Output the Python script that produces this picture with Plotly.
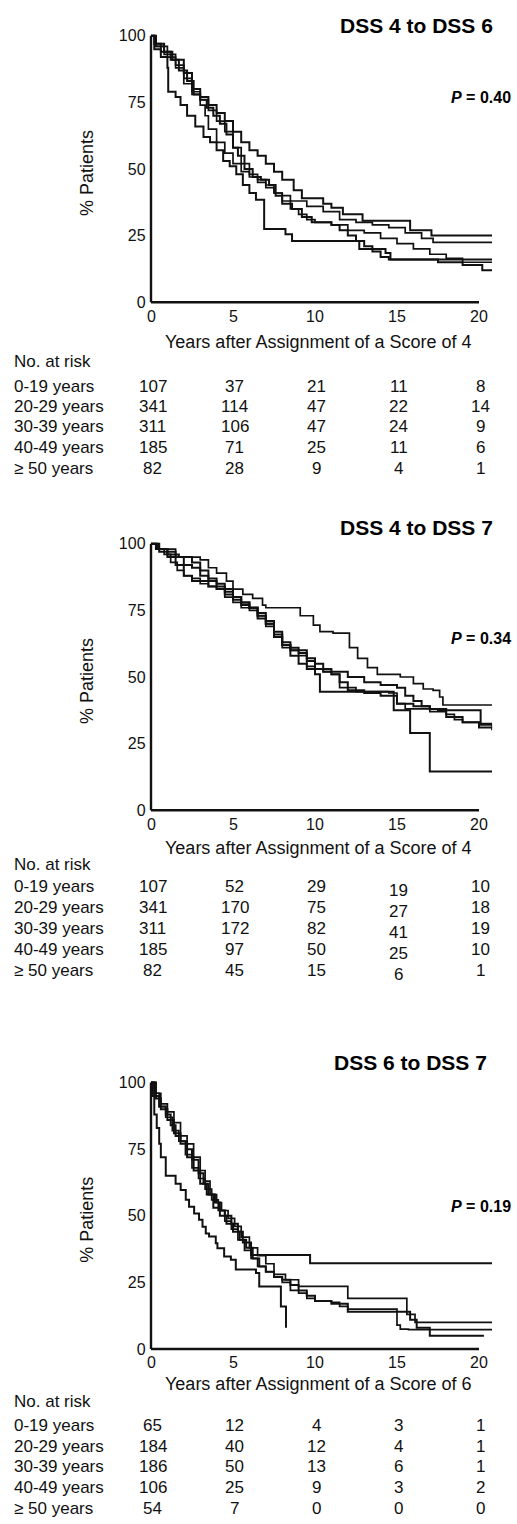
import plotly.graph_objects as go

W, H = 517, 1524
FONT = "Liberation Sans, Arial, sans-serif"

# ---------------- data ----------------
age_groups = ["0-19 years", "20-29 years", "30-39 years", "40-49 years", "\u2265 50 years"]
risk_times = [0, 5, 10, 15, 20]
y_ticks = [0, 25, 50, 75, 100]
x_ticks = [0, 5, 10, 15, 20]

panel_titles = ["DSS 4 to DSS 6", "DSS 4 to DSS 7", "DSS 6 to DSS 7"]
p_values = ["0.40", "0.34", "0.19"]
x_titles = ["Years after Assignment of a Score of 4",
            "Years after Assignment of a Score of 4",
            "Years after Assignment of a Score of 6"]

# No. at risk (rows = age groups, cols = 0,5,10,15,20 years)
p1_risk_0_19 = [107, 37, 21, 11, 8]
p1_risk_20_29 = [341, 114, 47, 22, 14]
p1_risk_30_39 = [311, 106, 47, 24, 9]
p1_risk_40_49 = [185, 71, 25, 11, 6]
p1_risk_50 = [82, 28, 9, 4, 1]

p2_risk_0_19 = [107, 52, 29, 19, 10]
p2_risk_20_29 = [341, 170, 75, 27, 18]
p2_risk_30_39 = [311, 172, 82, 41, 19]
p2_risk_40_49 = [185, 97, 50, 25, 10]
p2_risk_50 = [82, 45, 15, 6, 1]

p3_risk_0_19 = [65, 12, 4, 3, 1]
p3_risk_20_29 = [184, 40, 12, 4, 1]
p3_risk_30_39 = [186, 50, 13, 6, 1]
p3_risk_40_49 = [106, 25, 9, 3, 2]
p3_risk_50 = [54, 7, 0, 0, 0]

# Kaplan-Meier step points (years, % patients)
# Panel 1: DSS 4 to DSS 6
p1_c1_t = [0, 0.3, 0.8, 1.3, 2, 2.5, 3, 3.5, 4, 4.5, 5, 5.5, 6, 6.5, 7, 7.5, 8, 8.7, 9.2, 10, 10.5, 11, 11.7, 12.9, 15.8, 17.1, 20.8]
p1_c1_s = [100, 97, 94, 91, 86, 80, 77, 74, 71, 68, 64, 60, 57, 55, 52, 49, 46, 42, 39, 39, 37, 35.5, 33, 30.6, 27, 25, 25]
p1_c2_t = [0, 0.3, 1, 1.5, 2, 2.5, 3, 3.5, 4, 4.5, 5, 5.5, 6, 6.5, 7, 7.5, 8, 8.5, 9.5, 10.5, 11.5, 12.5, 13.5, 14.5, 15.5, 16.5, 17.2, 20.8]
p1_c2_s = [100, 96, 92, 89, 84, 79, 76, 72, 68, 64, 58, 52, 48, 46, 44, 41, 40, 38, 36, 34, 31, 30, 29, 28, 26, 24, 22.5, 22.5]
p1_c3_t = [0, 0.2, 0.6, 1.0, 1.05, 1.5, 1.8, 2.2, 2.7, 3.2, 3.6, 4, 4.4, 4.8, 5.2, 5.6, 6, 6.4, 6.9, 6.9, 7.8, 8.2, 8.6, 12.6, 12.7, 14, 14.3, 14.6, 20.8]
p1_c3_s = [100, 95, 92, 88, 79, 77, 74, 70, 66, 62, 60, 57, 53, 51, 48, 44, 41, 38.5, 38.5, 27.5, 27.5, 25.5, 23, 23, 20, 20, 18.5, 16, 16]
p1_c4_t = [0, 0.3, 0.8, 1.5, 2, 2.5, 3, 3.3, 3.5, 4, 4.5, 5, 5.5, 6, 6.5, 7, 7.5, 8, 8.5, 9, 9.5, 10, 11, 12, 13, 14, 15, 16, 17, 18, 19, 20.8]
p1_c4_s = [100, 96, 93, 88, 82, 78, 74, 70, 65, 60, 56, 52, 49, 47, 45, 43, 41, 38, 35, 33, 31, 30, 29, 27, 26, 24, 22, 20, 18, 16.5, 15, 15]
p1_c5_t = [0, 0.2, 0.6, 1.2, 1.7, 2.2, 2.6, 3, 3.4, 3.8, 4.2, 4.6, 5, 5.3, 5.7, 6.2, 6.7, 7.2, 7.6, 8, 8.6, 9.2, 9.8, 11, 11.5, 12, 12.5, 13, 13.5, 14, 14.5, 17.5, 19, 20.2, 20.8]
p1_c5_s = [100, 97, 94, 91, 87, 83, 78, 76, 73, 70, 67, 63, 58, 55, 50, 47, 46, 44, 40, 37, 35, 32, 30, 29, 27, 25, 23, 21, 19, 17, 16, 15, 14, 12, 12]

# Panel 2: DSS 4 to DSS 7
p2_c1_t = [0, 0.3, 1, 1.5, 2, 2.5, 3.5, 4, 4.5, 5, 5.5, 6, 6.5, 7, 7.5, 8, 8.5, 9, 9.5, 10, 10.3, 14.8, 15.8, 17, 20.8]
p2_c1_s = [100, 98, 95, 92, 88, 86, 84, 83, 81, 79, 77, 76, 73, 70, 66, 62, 58, 55, 53, 51, 44.5, 37.5, 29, 14.5, 14.5]
p2_c2_t = [0, 0.5, 1.5, 3.0, 3.5, 4.0, 4.6, 5.0, 5.6, 6.2, 6.8, 7.0, 8.7, 9.1, 9.9, 10.3, 11.1, 12.1, 12.6, 13.2, 13.8, 15.2, 16.0, 16.6, 17.2, 17.6, 17.8, 20.8]
p2_c2_s = [100, 98, 95, 94, 91, 89, 86, 83, 81, 79.5, 77, 76, 76, 73, 69.5, 67, 66.5, 61, 57, 53.5, 51, 50, 47.5, 45.5, 45, 42.5, 39.5, 39.5]
p2_c3_t = [0, 0.5, 1, 1.7, 2.5, 3.0, 3.5, 4, 4.5, 5, 5.5, 6, 6.5, 7, 7.5, 8, 8.5, 9, 9.5, 10, 10.5, 11, 12, 13, 14, 15, 15.5, 16, 16.5, 17, 17.5, 20.1, 20.8]
p2_c3_s = [100, 97, 96, 95, 93, 90, 87, 85, 83, 80, 78, 76, 74, 71, 67, 63, 61, 60, 57, 55, 53, 52, 50, 48, 47, 46, 43, 41, 39, 38, 37.5, 32.5, 32.5]
p2_c4_t = [0, 0.3, 0.8, 1.2, 1.6, 2, 2.5, 3, 3.5, 4, 4.5, 5, 5.5, 6, 6.5, 7, 7.5, 8, 8.5, 9, 9.5, 10, 10.5, 11, 11.5, 12.5, 14.5, 15, 15.5, 17, 18, 18.5, 19, 20, 20.8]
p2_c4_s = [100, 98, 96, 93, 90, 88, 87, 85, 84, 83, 80, 78, 76, 75, 73, 69, 65, 61, 60, 58, 54, 53, 52, 51, 46, 44.5, 44, 40, 38, 37, 36, 34, 33, 32, 31]
p2_c5_t = [0, 0.4, 1, 1.5, 2, 2.5, 3, 3.5, 4, 4.5, 5, 5.5, 6, 6.5, 7, 7.5, 8, 8.5, 9, 9.5, 10, 10.5, 11, 11.5, 12, 13, 14, 15, 16, 17, 18, 19, 20, 20.8]
p2_c5_s = [100, 98, 97, 95, 92, 91, 88, 86, 84, 82, 80, 78, 76, 72, 70, 65, 62, 60, 59, 56, 53, 52, 51, 48, 45, 44, 43, 40, 39, 38, 35, 33, 31, 30]

# Panel 3: DSS 6 to DSS 7
p3_c1_t = [0, 0.2, 0.5, 0.9, 1.2, 1.5, 1.8, 2.2, 2.5, 2.9, 3.2, 3.5, 3.9, 4.2, 4.5, 4.9, 5.3, 5.6, 6.1, 9.7, 20.8]
p3_c1_s = [100, 95, 91, 88, 84, 80, 78, 75, 71, 66, 62, 58, 55, 52, 50, 47, 44, 40, 35.3, 32.2, 32.2]
p3_c2_t = [0, 0.3, 0.6, 1, 1.4, 1.8, 2.2, 2.6, 3.0, 3.3, 3.6, 4.0, 4.3, 4.7, 5.1, 5.5, 6.0, 6.5, 7.0, 7.5, 8.2, 9, 12, 15.6, 16.1, 20.8]
p3_c2_s = [100, 96, 92, 89, 85, 80, 77, 72, 67, 63, 58, 55, 52, 49, 46, 42, 38, 35, 32, 28, 26, 23.5, 19, 13, 10, 10]
p3_c3_t = [0, 0.1, 0.2, 0.35, 0.5, 0.6, 0.9, 1.5, 1.81, 2.12, 2.32, 2.63, 2.93, 3.14, 3.34, 3.54, 3.95, 4.05, 4.46, 4.87, 5.17, 6.4, 6.6, 7.92, 8.23]
p3_c3_s = [100, 95, 88, 83, 77, 72, 65, 62, 59.7, 56, 53.4, 50.9, 48.5, 45.9, 43.4, 42.2, 39.7, 37.8, 34.7, 33.5, 29.8, 28.5, 23.5, 16, 8]
p3_c4_t = [0, 0.2, 0.5, 0.9, 1.3, 1.7, 2.1, 2.5, 2.9, 3.3, 3.7, 4.1, 4.5, 4.9, 5.3, 5.7, 6.1, 6.5, 7, 7.5, 8, 8.5, 9, 9.5, 10, 11, 11.5, 12, 15, 15.2, 15.7, 20.8]
p3_c4_s = [100, 96, 91, 87, 82, 78, 73, 68, 64, 60, 56, 52, 48, 45, 41, 37, 34, 31, 29, 27, 25, 22, 21, 19, 18, 17.5, 16, 15, 9, 7.5, 7.3, 7.3]
p3_c5_t = [0, 0.3, 0.6, 1, 1.4, 1.8, 2.2, 2.6, 3, 3.4, 3.8, 4.2, 4.6, 5, 5.4, 5.8, 6.2, 6.6, 7, 7.5, 8, 8.5, 9, 9.5, 10, 11, 12, 15.6, 15.8, 16.2, 17, 20.3]
p3_c5_s = [100, 94, 90, 86, 81, 77, 72, 67, 62, 58, 53, 50, 47, 44, 41, 38, 34, 31, 29, 27, 26, 24, 22, 20, 18, 17, 14, 14, 11, 8, 5, 5]

panels = [
    dict(curves=[(p1_c1_t, p1_c1_s), (p1_c2_t, p1_c2_s), (p1_c3_t, p1_c3_s), (p1_c4_t, p1_c4_s), (p1_c5_t, p1_c5_s)],
         risk=[p1_risk_0_19, p1_risk_20_29, p1_risk_30_39, p1_risk_40_49, p1_risk_50]),
    dict(curves=[(p2_c1_t, p2_c1_s), (p2_c2_t, p2_c2_s), (p2_c3_t, p2_c3_s), (p2_c4_t, p2_c4_s), (p2_c5_t, p2_c5_s)],
         risk=[p2_risk_0_19, p2_risk_20_29, p2_risk_30_39, p2_risk_40_49, p2_risk_50]),
    dict(curves=[(p3_c1_t, p3_c1_s), (p3_c2_t, p3_c2_s), (p3_c3_t, p3_c3_s), (p3_c4_t, p3_c4_s), (p3_c5_t, p3_c5_s)],
         risk=[p3_risk_0_19, p3_risk_20_29, p3_risk_30_39, p3_risk_40_49, p3_risk_50]),
]

# ---------------- layout (pixel geometry) ----------------
X0PX = 151.0
PX_PER_YEAR = 16.4
X_RANGE = [-0.15, 20.8]
PX_PER_PCT = 2.68
Y_RANGE = [-1.5, 101.5]

geom = [
    dict(y0=300, title_y=22, title_r=495, p_y=94, xtick_y=314, xtitle_y=340,
         risk_head=360, risk_rows=[385, 405, 425, 446, 467], col_shift=[0, 0, 0, 0, 0]),
    dict(y0=811, title_y=527, title_r=495, p_y=638, xtick_y=825, xtitle_y=849,
         risk_head=866, risk_rows=[888, 909, 930, 951, 972], col_shift=[0, 0, 0, 4, 0]),
    dict(y0=1353, title_y=1065, title_r=489, p_y=1210, xtick_y=1367, xtitle_y=1388,
         risk_head=1406, risk_rows=[1430, 1451, 1471, 1492, 1513], col_shift=[0, 0, 0, 0, 0]),
]

def py(p):  # pixel row -> paper y
    return 1 - p / H

def px(p):  # pixel column -> paper x
    return p / W

fig = go.Figure()
annotations = []
shapes = []
layout_axes = {}

xl = X0PX + (X_RANGE[0]) * PX_PER_YEAR
xr = X0PX + (X_RANGE[1]) * PX_PER_YEAR
TXT = "#111111"

for i, (pan, g) in enumerate(zip(panels, geom)):
    n = i + 1
    xa = "x" if n == 1 else f"x{n}"
    ya = "y" if n == 1 else f"y{n}"
    xkey = "xaxis" if n == 1 else f"xaxis{n}"
    ykey = "yaxis" if n == 1 else f"yaxis{n}"
    ybot = g["y0"] - Y_RANGE[0] * PX_PER_PCT
    ytop = g["y0"] - Y_RANGE[1] * PX_PER_PCT

    for k, (t, s) in enumerate(pan["curves"]):
        fig.add_trace(go.Scatter(x=t, y=s, mode="lines", line_shape="hv",
                                 line=dict(color="#111111", width=2.0 if k % 2 == 0 else 1.7),
                                 xaxis=xa, yaxis=ya, showlegend=False, hoverinfo="skip"))

    layout_axes[xkey] = dict(domain=[px(xl), px(xr)], range=X_RANGE, anchor=ya,
                             tickvals=x_ticks, showgrid=False, zeroline=False, showline=False,
                             ticks="", showticklabels=False, fixedrange=True)
    layout_axes[ykey] = dict(domain=[py(ybot), py(ytop)], range=Y_RANGE, anchor=xa,
                             tickvals=y_ticks, showgrid=False, zeroline=False, showline=False,
                             ticks="", ticklabelstandoff=2,
                             tickfont=dict(family=FONT, size=16, color=TXT),
                             fixedrange=True)

    # axis lines
    shapes.append(dict(type="line", xref=xa, yref=ya, x0=0, x1=20, y0=0, y1=0,
                       line=dict(color="#111111", width=2.6)))
    shapes.append(dict(type="line", xref=xa, yref=ya, x0=0, x1=0, y0=0, y1=100,
                       line=dict(color="#111111", width=2.4)))

    # x tick labels
    for v in x_ticks:
        annotations.append(dict(x=v, xref=xa, y=py(g["xtick_y"]), yref="paper", text=str(v),
                                showarrow=False, xanchor="center", yanchor="middle",
                                font=dict(family=FONT, size=16, color=TXT)))
    # x title
    annotations.append(dict(x=10.2, xref=xa, y=py(g["xtitle_y"]), yref="paper", text=x_titles[i],
                            showarrow=False, xanchor="center", yanchor="middle",
                            font=dict(family=FONT, size=18, color=TXT)))
    # y title
    annotations.append(dict(x=px(87), xref="paper", y=py(g["y0"] - 50 * PX_PER_PCT + 4), yref="paper",
                            text="% Patients", textangle=-90, showarrow=False,
                            xanchor="center", yanchor="middle",
                            font=dict(family=FONT, size=18, color=TXT)))
    # panel title
    annotations.append(dict(x=px(g["title_r"]), xref="paper", y=py(g["title_y"]), yref="paper",
                            text=f"<b>{panel_titles[i]}</b>", showarrow=False,
                            xanchor="right", yanchor="middle",
                            font=dict(family=FONT, size=21, color="#000000")))
    # P value
    annotations.append(dict(x=px(513), xref="paper", y=py(g["p_y"]), yref="paper",
                            text=f"<b><i>P</i> = {p_values[i]}</b>", showarrow=False,
                            xanchor="right", yanchor="middle",
                            font=dict(family=FONT, size=16, color="#000000")))
    # No. at risk table
    annotations.append(dict(x=px(12), xref="paper", y=py(g["risk_head"]), yref="paper",
                            text="No. at risk", showarrow=False, xanchor="left", yanchor="middle",
                            font=dict(family=FONT, size=17, color=TXT)))
    for r, (lab, row) in enumerate(zip(age_groups, pan["risk"])):
        annotations.append(dict(x=px(12), xref="paper", y=py(g["risk_rows"][r]), yref="paper",
                                text=lab, showarrow=False, xanchor="left", yanchor="middle",
                                font=dict(family=FONT, size=17, color=TXT)))
        for c, (tv, val) in enumerate(zip(risk_times, row)):
            annotations.append(dict(x=tv + 0.1, xref=xa, y=py(g["risk_rows"][r] + g["col_shift"][c]),
                                    yref="paper", text=str(val), showarrow=False,
                                    xanchor="center", yanchor="middle",
                                    font=dict(family=FONT, size=17, color=TXT)))

fig.update_layout(width=W, height=H, margin=dict(l=0, r=0, t=0, b=0),
                  paper_bgcolor="white", plot_bgcolor="white", showlegend=False,
                  annotations=annotations, shapes=shapes, **layout_axes)

fig.write_html("out.html", config={"displayModeBar": False},
               post_script="document.body.style.margin='0';document.body.style.padding='0';"
                           "document.body.style.overflow='hidden';")
